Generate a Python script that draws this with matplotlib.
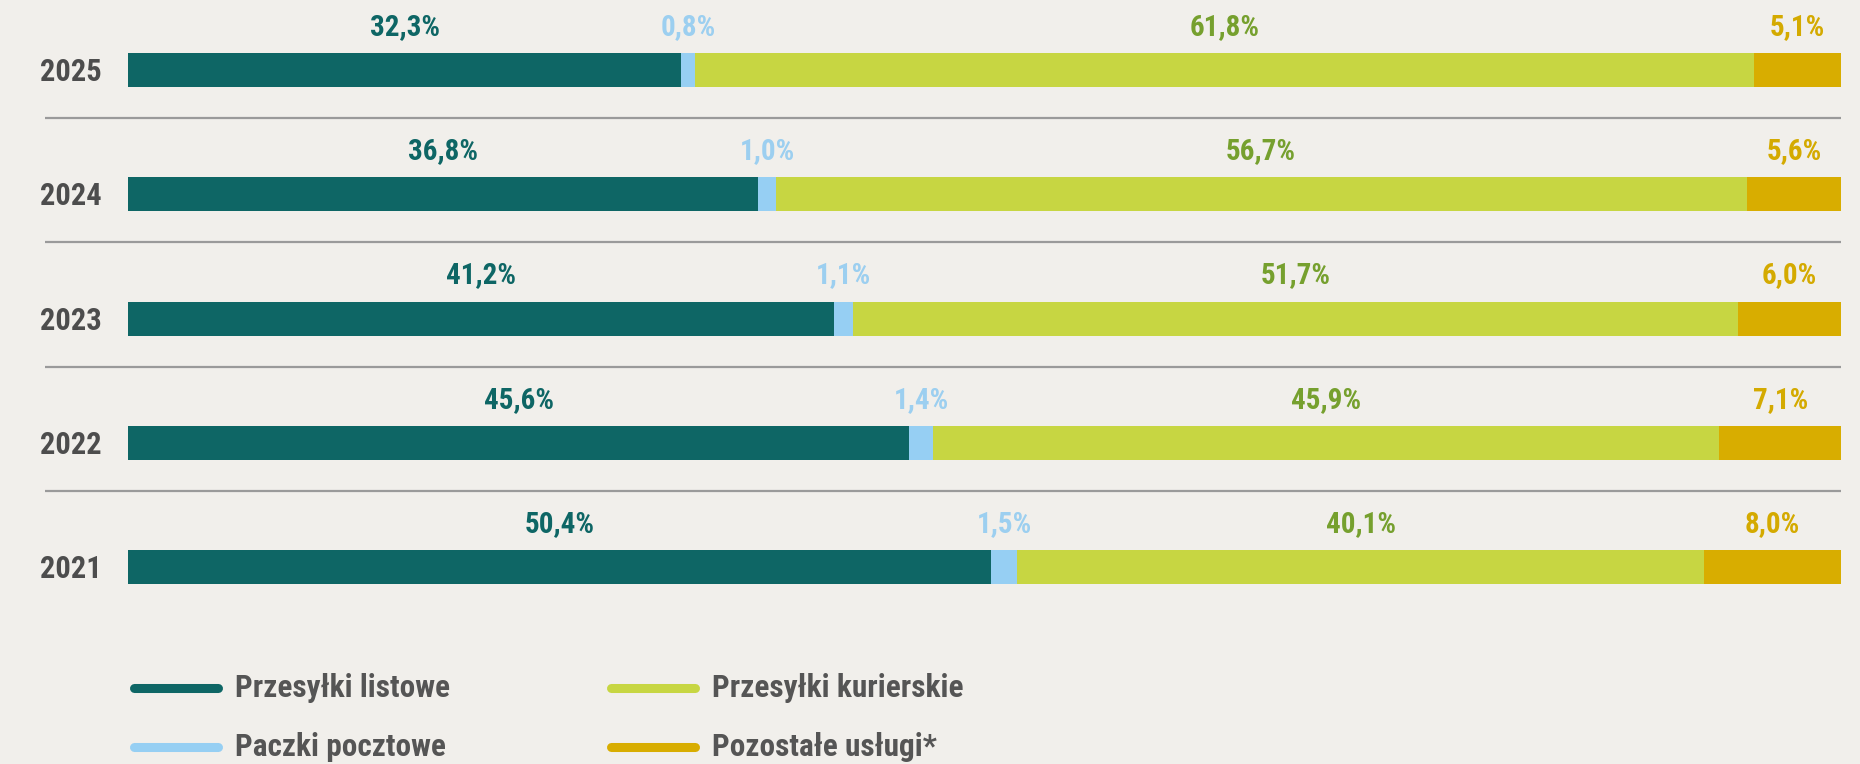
import matplotlib
matplotlib.use("Agg")
import matplotlib.pyplot as plt
from matplotlib import font_manager
from matplotlib.lines import Line2D

# data (shares in %)
years = ["2021", "2022", "2023", "2024", "2025"]
series_names = ["Przesyłki listowe", "Paczki pocztowe", "Przesyłki kurierskie", "Pozostałe usługi*"]
listowe = [50.4, 45.6, 41.2, 36.8, 32.3]
paczki = [1.5, 1.4, 1.1, 1.0, 0.8]
kurierskie = [40.1, 45.9, 51.7, 56.7, 61.8]
pozostale = [8.0, 7.1, 6.0, 5.6, 5.1]

bar_colors = ["#0e6665", "#96cff3", "#c7d642", "#d8ad00"]
label_colors = ["#0e6665", "#9ccff0", "#76a02e", "#d4aa00"]
BG = "#f1efeb"

# pick a condensed face if one is installed
available = {f.name for f in font_manager.fontManager.ttflist}
family = "DejaVu Sans"
for cand in ["Roboto Condensed", "Liberation Sans Narrow", "Roboto", "Liberation Sans"]:
    if cand in available:
        family = cand
        break
plt.rcParams["font.family"] = [family, "DejaVu Sans"]

W, H = 1860, 764
fig = plt.figure(figsize=(W / 100, H / 100), dpi=100, facecolor=BG)

x0_px, x1_px = 128, 1841
ax = fig.add_axes([x0_px / W, 0, (x1_px - x0_px) / W, 1])
ax.set_facecolor(BG)
ax.set_xlim(0, 100)
# 2025 bar centre at 70 px from top, 2021 at 567 px
step = (567 - 70) / 4
ax.set_ylim(-(H - 567) / step, 4 + 70 / step)
ax.axis("off")

bar_h = 34 / step
ypos = list(range(len(years)))
all_series = [listowe, paczki, kurierskie, pozostale]

left = [0.0] * len(years)
for vals, col, lcol in zip(all_series, bar_colors, label_colors):
    ax.barh(ypos, vals, left=left, height=bar_h, color=col, linewidth=0)
    for y, l, v in zip(ypos, left, vals):
        ax.text(l + v / 2, y + bar_h / 2 + 18 / step, f"{v:.1f}%".replace(".", ","),
                ha="center", va="baseline", fontsize=21, fontweight="bold", color=lcol)
    left = [l + v for l, v in zip(left, vals)]

# year labels
x_year = (71 - x0_px) / (x1_px - x0_px) * 100
for y, yr in zip(ypos, years):
    ax.text(x_year, y - 2 / step, yr, ha="center", va="center", fontsize=22,
            fontweight="semibold", color="#4d4d4d")

# separators between rows
x_sep = (45 - x0_px) / (x1_px - x0_px) * 100
for y in ypos[1:]:
    ax.plot([x_sep, 100], [y - 48 / step] * 2, color="#9a9a9a", lw=1.6,
            clip_on=False, solid_capstyle="butt")

# legend, two columns
leg_pos = [(130, 688), (130, 747), (607, 688), (607, 747)]
for name, col, (lx, ly) in zip(series_names, bar_colors, leg_pos):
    fig.add_artist(Line2D([(lx + 4) / W, (lx + 88) / W], [1 - ly / H] * 2,
                          transform=fig.transFigure, color=col, lw=6.5,
                          solid_capstyle="round"))
    fig.text((lx + 105) / W, 1 - ly / H, name, ha="left", va="center",
             fontsize=22.5, fontweight="semibold", color="#555555")

fig.savefig("out.png", dpi=100, facecolor=BG)
